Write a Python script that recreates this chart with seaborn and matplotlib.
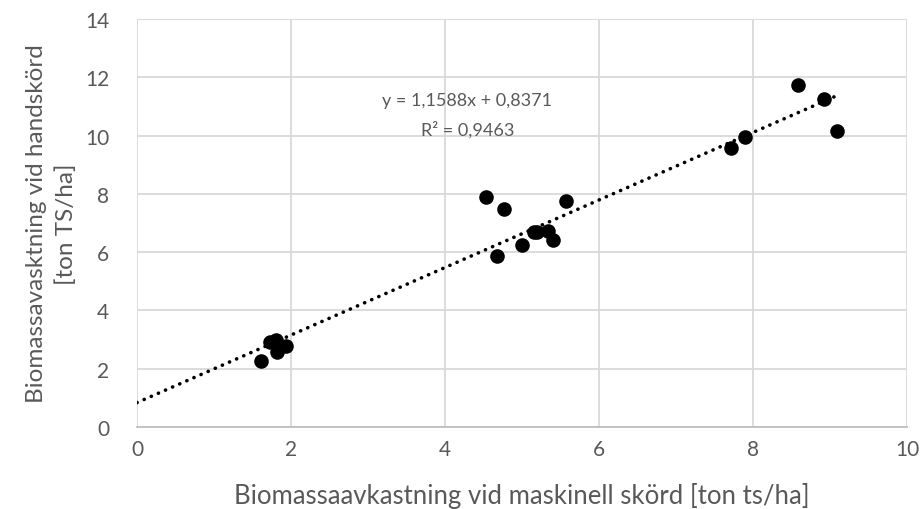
import numpy as np
import pandas as pd
import matplotlib
matplotlib.use("Agg")
import matplotlib.pyplot as plt
import seaborn as sns

# Yield per plot: machine harvest (x) vs. hand harvest (y), ton dry matter per ha
maskinell = [1.61, 1.73, 1.80, 1.82, 1.93,
             4.53, 4.68, 4.77, 5.00, 5.15, 5.20, 5.34, 5.40, 5.57,
             7.71, 7.90, 8.59, 8.92, 9.09]
hand = [2.28, 2.92, 2.97, 2.58, 2.78,
        7.90, 5.87, 7.47, 6.26, 6.68, 6.70, 6.72, 6.41, 7.77,
        9.57, 9.96, 11.75, 11.25, 10.15]

# Linear trendline as reported
slope = 1.1588
intercept = 0.8371
r2 = 0.9463

xticks = [0, 2, 4, 6, 8, 10]
yticks = [0, 2, 4, 6, 8, 10, 12, 14]

df = pd.DataFrame({"maskinell": maskinell, "hand": hand})

sns.set_theme(style="white")
plt.rcParams["font.family"] = ["Lato", "DejaVu Sans"]

grey_text = "#595959"
grid_col = "#d9d9d9"

fig = plt.figure(figsize=(9.22, 5.10), dpi=100)
ax = fig.add_axes([0.1486, 0.1608, 0.8351, 0.8000])

ax.set_xlim(0, 10)
ax.set_ylim(0, 14)
ax.set_xticks(xticks)
ax.set_yticks(yticks)
ax.grid(True, color=grid_col, linewidth=1.3)
ax.set_axisbelow(True)

for side in ["top", "right", "left"]:
    ax.spines[side].set_visible(False)
ax.spines["bottom"].set_color("#bfbfbf")
ax.spines["bottom"].set_linewidth(1.3)

sns.scatterplot(data=df, x="maskinell", y="hand", ax=ax, color="black",
                s=110, edgecolor="black", linewidth=0, zorder=3)

xl = np.array([0, max(maskinell)])
ax.plot(xl, slope * xl + intercept, color="black", linewidth=2.6,
        linestyle=(0, (0.05, 2.1)), dash_capstyle="round", zorder=2)

eq = f"y = {slope:.4f}x + {intercept:.4f}".replace(".", ",")
r2txt = f"R² = {r2:.4f}".replace(".", ",")
ax.text(4.29, 11.22, eq, ha="center", va="center", fontsize=13, color=grey_text)
ax.text(4.29, 10.23, r2txt, ha="center", va="center", fontsize=13, color=grey_text)

ax.tick_params(axis="x", length=0, labelsize=15, labelcolor=grey_text, pad=9)
ax.tick_params(axis="y", length=0, labelsize=15, labelcolor=grey_text, pad=20)
ax.set_xlabel("Biomassaavkastning vid maskinell skörd [ton ts/ha]",
              fontsize=18.5, color=grey_text, labelpad=16)
ax.set_ylabel("Biomassavasktning vid handskörd\n[ton TS/ha]",
              fontsize=17.5, color=grey_text, labelpad=6, linespacing=1.45)

fig.savefig("out.png", dpi=100)
